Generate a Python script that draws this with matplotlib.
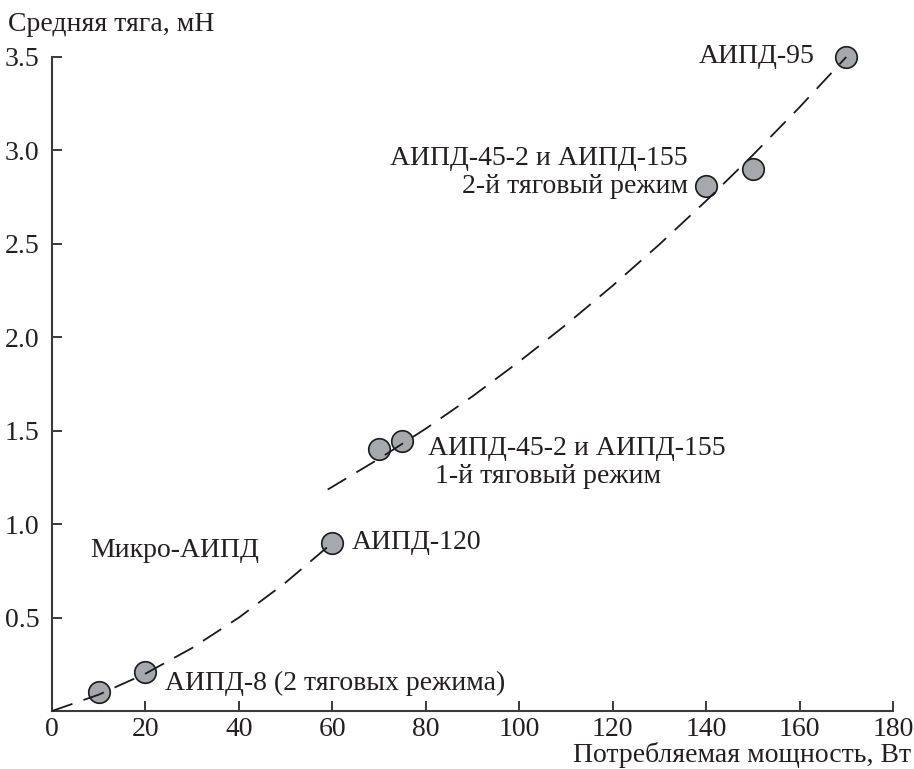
import matplotlib
matplotlib.use("Agg")
import matplotlib.pyplot as plt

plt.rcParams['font.family'] = ['Liberation Serif', 'DejaVu Serif']

# Data points (power, W ; thrust, mN)
power = [10, 20, 60, 70, 75, 140, 150, 170]
thrust = [0.10, 0.21, 0.90, 1.40, 1.445, 2.81, 2.90, 3.50]

# Dashed trend lines
trend1_x = [0, 10, 20, 30, 40, 50, 60]
trend1_y = [0.0, 0.0875, 0.20, 0.3375, 0.50, 0.6875, 0.90]
trend2_x = [59, 70, 80, 90, 100, 110, 120, 130, 140, 150, 160, 170]
trend2_y = [1.185, 1.350, 1.511, 1.684, 1.870, 2.067, 2.276, 2.497, 2.730, 2.975, 3.231, 3.500]

xticks = [0, 20, 40, 60, 80, 100, 120, 140, 160, 180]
yticks = [0.5, 1.0, 1.5, 2.0, 2.5, 3.0, 3.5]

txt = '#231f20'
spine = '#3a3a3a'
fs = 20

fig = plt.figure(figsize=(9.14, 7.69), dpi=100)
ax = fig.add_axes([0.0569, 0.0754, 0.977 - 0.0569, 0.9259 - 0.0754])
ax.set_xlim(0, 180)
ax.set_ylim(0, 3.5)

ax.plot(power, thrust, 'o', ms=15.5, mfc='#a7a8ac', mec='#1a1a1a', mew=1.2, zorder=2, clip_on=False)
for tx, ty in [(trend1_x, trend1_y), (trend2_x, trend2_y)]:
    ax.plot(tx, ty, color='#1a1a1a', lw=1.3, dashes=(12, 6.5), zorder=3, clip_on=False)

for s in ['top', 'right']:
    ax.spines[s].set_visible(False)
for s in ['left', 'bottom']:
    ax.spines[s].set_color(spine)
    ax.spines[s].set_linewidth(1.5)

ax.set_xticks(xticks)
ax.set_yticks(yticks)
ax.set_yticklabels([f'{v:.1f}' for v in yticks])
ax.tick_params(direction='in', length=7, width=1.4, color=spine, labelsize=fs, labelcolor=txt)
ax.tick_params(axis='y', pad=9)
ax.tick_params(axis='x', pad=4)

fig.text(8 / 914, 1 - 31 / 769, 'Средняя тяга, мН', fontsize=fs, color=txt, ha='left', va='baseline')
fig.text(911 / 914, 1 - 762 / 769, 'Потребляемая мощность, Вт', fontsize=fs, color=txt, ha='right', va='baseline')

ax.text(163.3, 3.5, 'АИПД-95', fontsize=fs, color=txt, ha='right', va='center')
ax.text(136.1, 2.88, 'АИПД-45-2 и АИПД-155\n2-й тяговый режим', fontsize=fs, color=txt,
        ha='right', va='center', multialignment='right', linespacing=1.15)
ax.text(80.5, 1.33, 'АИПД-45-2 и АИПД-155\n 1-й тяговый режим', fontsize=fs, color=txt,
        ha='left', va='center', multialignment='left', linespacing=1.15)
ax.text(64.2, 0.90, 'АИПД-120', fontsize=fs, color=txt, ha='left', va='center')
ax.text(8.1, 0.86, 'Микро-АИПД', fontsize=fs, color=txt, ha='left', va='center')
ax.text(24.2, 0.145, 'АИПД-8 (2 тяговых режима)', fontsize=fs, color=txt, ha='left', va='center')

fig.savefig('out.png', dpi=100)
